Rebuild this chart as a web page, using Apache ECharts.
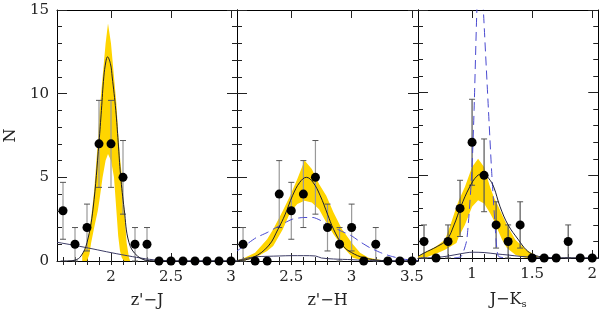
<!DOCTYPE html>
<html>
<head>
<meta charset="utf-8">
<script src="https://cdn.jsdelivr.net/npm/echarts@6/dist/echarts.min.js"></script>
<style>html,body{margin:0;padding:0;background:#fff}#main{width:600px;height:314px}</style>
</head>
<body>
<div id="main"></div>
<script>
var myChart = echarts.init(document.getElementById('main'));
var FONT = 'DejaVu Serif';

// histogram points (bin centre, count, error)
var zjBins = [1.6, 1.7, 1.8, 1.9, 2.0, 2.1, 2.2, 2.3, 2.4, 2.5, 2.6, 2.7, 2.8, 2.9, 3.0];
var zjCounts = [3, 1, 2, 7, 7, 5, 1, 1, 0, 0, 0, 0, 0, 0, 0];
var zjErr = [1.7, 1, 1.4, 2.6, 2.6, 2.2, 1, 1, 0, 0, 0, 0, 0, 0, 0];

var zhBins = [2.1, 2.2, 2.3, 2.4, 2.5, 2.6, 2.7, 2.8, 2.9, 3.0, 3.1, 3.2, 3.3, 3.4, 3.5];
var zhCounts = [1, 0, 0, 4, 3, 4, 5, 2, 1, 2, 0, 1, 0, 0, 0];
var zhErr = [1, 0, 0, 2, 1.7, 2, 2.2, 1.4, 1, 1.4, 0, 1, 0, 0, 0];

var jkBins = [0.6, 0.7, 0.8, 0.9, 1.0, 1.1, 1.2, 1.3, 1.4, 1.5, 1.6, 1.7, 1.8, 1.9, 2.0];
var jkCounts = [1, 0, 1, 3, 7, 5, 2, 1, 2, 0, 0, 0, 1, 0, 0];
var jkErr = [1, 0, 1, 1.7, 2.6, 2.2, 1.4, 1, 1.4, 0, 0, 0, 1, 0, 0];

// yellow bands [x, low, high]
var zjBand = [[1.76, 0, 0.4], [1.78, 0, 0.7], [1.80, 0, 1.1], [1.82, 0.4, 1.9], [1.835, 1.1, 2.6], [1.86, 2.0, 4.2],
  [1.89, 3.0, 7.1], [1.905, 3.7, 9.0], [1.93, 5.0, 11.0], [1.955, 6.0, 13.0], [1.975, 6.4, 14.2], [2.0, 6.0, 13.0],
  [2.025, 5.0, 11.0], [2.045, 3.0, 9.4], [2.06, 1.5, 7.6], [2.075, 0.6, 6.2], [2.09, 0.2, 5.1], [2.11, 0, 3.1],
  [2.13, 0, 1.1], [2.15, 0, 0.2], [2.16, 0, 0]];
var zhBand = [[2.05, 0, 0.05], [2.10, 0, 0.15], [2.20, 0.2, 0.5], [2.30, 0.6, 1.3], [2.35, 0.9, 1.9], [2.43, 1.9, 3.0],
  [2.49, 2.9, 3.9], [2.55, 3.4, 4.9], [2.61, 3.6, 6.0], [2.67, 3.5, 5.5], [2.73, 3.1, 4.6], [2.79, 2.3, 3.9],
  [2.85, 1.6, 2.9], [2.92, 0.9, 1.9], [3.01, 0.2, 1.0], [3.07, 0.08, 0.5], [3.14, 0.03, 0.2], [3.25, 0, 0.05], [3.35, 0, 0]];
var jkBand = [[0.55, 0, 0.1], [0.62, 0.05, 0.4], [0.70, 0.25, 0.7], [0.775, 0.5, 1.1], [0.82, 0.7, 2.0], [0.87, 0.9, 3.1],
  [0.89, 1.3, 3.5], [0.94, 2.0, 4.3], [1.0, 3.1, 5.5], [1.05, 3.5, 6.0], [1.10, 3.3, 5.5], [1.15, 2.7, 4.3],
  [1.18, 2.3, 3.7], [1.22, 1.6, 3.1], [1.25, 1.1, 2.6], [1.29, 0.6, 2.0], [1.36, 0.2, 1.1], [1.45, 0, 0.5],
  [1.54, 0, 0.1], [1.6, 0, 0]];

// model curves
var zjModel = [[1.58, 0], [1.65, 0.01], [1.70, 0.05], [1.75, 0.3], [1.80, 1.1], [1.85, 3.1], [1.90, 7.1], [1.92, 9.0],
  [1.94, 11.0], [1.957, 11.9], [1.97, 12.2], [1.995, 11.8], [2.01, 11.0], [2.04, 9.0], [2.06, 7.1], [2.08, 5.1],
  [2.11, 3.1], [2.15, 1.1], [2.22, 0.3], [2.32, 0.02], [2.45, 0], [3.05, 0]];
var zjBack = [[1.55, 1.12], [1.70, 0.93], [1.85, 0.72], [2.00, 0.5], [2.18, 0.26], [2.32, 0.1], [2.45, 0.02], [2.6, 0], [3.05, 0]];

var zhModel = [[2.05, 0.02], [2.18, 0.2], [2.31, 0.9], [2.39, 1.9], [2.45, 2.8], [2.51, 3.9], [2.57, 4.7], [2.625, 5.0],
  [2.68, 4.7], [2.74, 3.9], [2.80, 2.8], [2.85, 1.9], [2.93, 0.9], [3.0, 0.5], [3.10, 0.2], [3.25, 0.03], [3.40, 0], [3.55, 0]];
var zhDash = [[2.05, 0.6], [2.13, 1.0], [2.21, 1.4], [2.30, 1.7], [2.375, 2.0], [2.45, 2.3], [2.51, 2.5], [2.60, 2.6],
  [2.68, 2.6], [2.75, 2.4], [2.82, 2.1], [2.91, 1.8], [3.0, 1.5], [3.07, 1.15], [3.15, 0.8], [3.24, 0.5], [3.32, 0.3],
  [3.42, 0.12], [3.51, 0.05], [3.55, 0.03]];
var zhBack = [[2.05, 0.02], [2.12, 0.15], [2.2, 0.25], [2.3, 0.28], [2.4, 0.3], [2.5, 0.32], [2.6, 0.32], [2.7, 0.3],
  [2.75, 0.18], [2.85, 0.12], [3.0, 0.08], [3.1, 0.04], [3.3, 0], [3.55, 0]];

var jkModel = [[0.55, 0.1], [0.6, 0.3], [0.71, 0.7], [0.79, 1.1], [0.85, 2.0], [0.906, 3.1], [0.98, 4.3], [1.04, 4.95],
  [1.09, 5.1], [1.14, 4.8], [1.18, 4.3], [1.233, 3.1], [1.30, 2.0], [1.386, 1.1], [1.45, 0.5], [1.51, 0.2], [1.6, 0.05],
  [1.8, 0], [2.05, 0]];
var jkDash = [[0.85, 0], [0.91, 0.1], [0.956, 1.1], [0.997, 5.1], [1.017, 9.0], [1.04, 15], [1.066, 19], [1.094, 15],
  [1.136, 9.0], [1.164, 5.1], [1.2, 1.1], [1.22, 0.1], [1.3, 0]];
var jkBack = [[0.55, 0], [0.7, 0.03], [0.8, 0.12], [0.9, 0.25], [1.0, 0.35], [1.1, 0.33], [1.2, 0.25], [1.3, 0.18],
  [1.4, 0.1], [1.5, 0.05], [1.6, 0.02], [1.7, 0], [2.05, 0]];

// axis ticks
var zjMajor = [2, 2.5, 3];
var zjMinor = [1.6, 1.7, 1.8, 1.9, 2.0, 2.1, 2.2, 2.3, 2.4, 2.5, 2.6, 2.7, 2.8, 2.9, 3.0];
var zhMajor = [2.5, 3, 3.5];
var zhMinor = [2.1, 2.2, 2.3, 2.4, 2.5, 2.6, 2.7, 2.8, 2.9, 3.0, 3.1, 3.2, 3.3, 3.4, 3.5];
var jkMajor = [1, 1.5, 2];
var jkMinor = [0.6, 0.7, 0.8, 0.9, 1.0, 1.1, 1.2, 1.3, 1.4, 1.5, 1.6, 1.7, 1.8, 1.9, 2.0];

var panels = [
  {left: 57, width: 180, min: 1.55, max: 3.05, name: "z'\u2212J", major: zjMajor, minor: zjMinor,
   bins: zjBins, counts: zjCounts, err: zjErr, band: zjBand, model: zjModel, dash: null, back: zjBack, barColor: '#999'},
  {left: 237, width: 181, min: 2.05, max: 3.55, name: "z'\u2212H", major: zhMajor, minor: zhMinor,
   bins: zhBins, counts: zhCounts, err: zhErr, band: zhBand, model: zhModel, dash: zhDash, back: zhBack, barColor: '#999'},
  {left: 418, width: 181, min: 0.55, max: 2.05, name: "J\u2212K{s|s}", major: jkMajor, minor: jkMinor,
   bins: jkBins, counts: jkCounts, err: jkErr, band: jkBand, model: jkModel, dash: jkDash, back: jkBack, barColor: '#555'}
];

var grids = [], xAxes = [], yAxes = [], series = [];

panels.forEach(function (p, g) {
  grids.push({left: p.left, top: 10, width: p.width, height: 252});

  var base = {type: 'value', gridIndex: g, min: p.min, max: p.max, splitLine: {show: false}};
  // bottom major with labels
  xAxes.push(Object.assign({}, base, {
    position: 'bottom',
    axisLine: {show: true, onZero: false, lineStyle: {color: '#000', width: 1}},
    axisTick: {show: true, inside: true, length: 8, customValues: p.major, lineStyle: {color: '#222'}},
    axisLabel: {show: true, customValues: p.major, margin: 9, fontFamily: FONT, fontSize: 15, color: '#222'},
    name: p.name, nameLocation: 'middle', nameGap: 32,
    nameTextStyle: {fontFamily: FONT, fontSize: 16, color: '#222',
      rich: {s: {fontFamily: FONT, fontSize: 10, color: '#222', padding: [9, 0, 0, 0]}}}
  }));
  xAxes.push(Object.assign({}, base, {
    position: 'bottom', axisLine: {show: false},
    axisTick: {show: true, inside: true, length: 4, customValues: p.minor, lineStyle: {color: '#222'}},
    axisLabel: {show: false}
  }));
  xAxes.push(Object.assign({}, base, {
    position: 'top',
    axisLine: {show: true, onZero: false, lineStyle: {color: '#000', width: 1}},
    axisTick: {show: true, inside: true, length: 8, customValues: p.major, lineStyle: {color: '#222'}},
    axisLabel: {show: false}
  }));
  xAxes.push(Object.assign({}, base, {
    position: 'top', axisLine: {show: false},
    axisTick: {show: true, inside: true, length: 4, customValues: p.minor, lineStyle: {color: '#222'}},
    axisLabel: {show: false}
  }));

  var ybase = {type: 'value', gridIndex: g, min: 0, max: 15, interval: 5, splitLine: {show: false},
    axisLine: {show: true, onZero: false, lineStyle: {color: '#000', width: 1}},
    axisTick: {show: true, inside: true, length: 10, lineStyle: {color: '#222'}},
    minorTick: {show: true, splitNumber: 5, length: 5, lineStyle: {color: '#222'}}};
  yAxes.push(Object.assign({}, ybase, {
    position: 'left',
    axisLabel: {show: g === 0, margin: 8, fontFamily: FONT, fontSize: 15, color: '#222'},
    name: g === 0 ? 'N' : '', nameLocation: 'middle', nameRotate: 90, nameGap: 38,
    nameTextStyle: {fontFamily: FONT, fontSize: 16, color: '#222'}
  }));
  yAxes.push(Object.assign({}, ybase, {position: 'right', axisLabel: {show: false}}));

  var xi = 4 * g, yi = 2 * g;
  var band = p.band;
  series.push({
    type: 'custom', xAxisIndex: xi, yAxisIndex: yi, z: 1, silent: true,
    data: band,
    renderItem: function (params, api) {
      if (params.dataIndex !== 0) return null;
      var up = band.map(function (d) { return api.coord([d[0], d[2]]); });
      var lo = band.slice().reverse().map(function (d) { return api.coord([d[0], d[1]]); });
      return {type: 'polygon', shape: {points: up.concat(lo)}, style: {fill: '#ffd500'}};
    }
  });

  var bars = [];
  p.bins.forEach(function (x, i) {
    if (p.err[i] > 0) bars.push([x, p.counts[i], p.err[i]]);
  });
  var barColor = p.barColor;
  series.push({
    type: 'custom', xAxisIndex: xi, yAxisIndex: yi, z: 2, silent: true,
    data: bars,
    renderItem: function (params, api) {
      var x = api.value(0), n = api.value(1), e = api.value(2);
      var top = api.coord([x, n + e]);
      var bot = api.coord([x, Math.max(0, n - e)]);
      var w = 3;
      return {type: 'group', children: [
        {type: 'line', shape: {x1: top[0], y1: top[1], x2: bot[0], y2: bot[1]}, style: {stroke: barColor, lineWidth: 1.2}},
        {type: 'line', shape: {x1: top[0] - w, y1: top[1], x2: top[0] + w, y2: top[1]}, style: {stroke: '#555', lineWidth: 1}},
        {type: 'line', shape: {x1: bot[0] - w, y1: bot[1], x2: bot[0] + w, y2: bot[1]}, style: {stroke: '#555', lineWidth: 1}}
      ]};
    }
  });

  series.push({type: 'line', xAxisIndex: xi, yAxisIndex: yi, z: 3, data: p.back, symbol: 'none', smooth: 0.3,
    lineStyle: {color: '#3c3c66', width: 1}});
  if (p.dash) {
    series.push({type: 'line', xAxisIndex: xi, yAxisIndex: yi, z: 3, data: p.dash, symbol: 'none', smooth: 0.2,
      lineStyle: {color: '#4a4ad0', width: 1, type: [9, 5]}});
  }
  series.push({type: 'line', xAxisIndex: xi, yAxisIndex: yi, z: 3, data: p.model, symbol: 'none', smooth: 0.4,
    lineStyle: {color: '#1e1e2e', width: 1}});

  series.push({type: 'scatter', xAxisIndex: xi, yAxisIndex: yi, z: 4, symbolSize: 9,
    itemStyle: {color: '#000', opacity: 1},
    data: p.bins.map(function (x, i) { return [x, p.counts[i]]; })});
});

var option = {
  animation: false,
  backgroundColor: '#fff',
  grid: grids,
  xAxis: xAxes,
  yAxis: yAxes,
  series: series
};
myChart.setOption(option);
</script>
</body>
</html>
